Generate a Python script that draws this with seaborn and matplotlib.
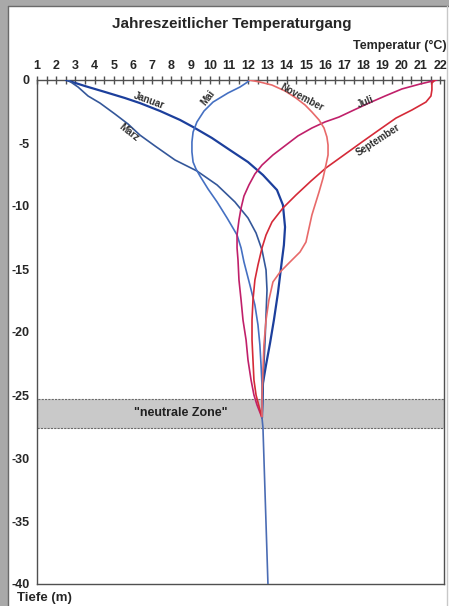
import pandas as pd
import matplotlib.pyplot as plt
import seaborn as sns
from matplotlib.patches import Rectangle

# Temperaturprofile (Temperatur in °C, Tiefe in m)
jan_t = [2.51, 3.5, 4.54, 5.58, 6.36, 7.41, 8.45, 9.13, 10.11, 11.05, 11.99, 12.77, 13.5,
         13.81, 13.92, 13.86, 13.76, 13.55, 13.34, 13.14, 12.93, 12.77, 12.72]
jan_d = [0, -0.48, -0.95, -1.43, -1.83, -2.46, -3.17, -3.73, -4.6, -5.56, -6.51, -7.54, -8.73,
         -9.92, -11.67, -13.1, -14.29, -16.9, -19.05, -20.87, -22.62, -24.05, -26.8]

maerz_t = [2.61, 3.14, 3.66, 4.28, 5.06, 5.74, 6.36, 7.15, 8.19, 9.33, 10.38, 11.31, 11.99,
           12.41, 12.72, 12.93, 12.98, 12.93, 12.88, 12.82, 12.77, 12.72]
maerz_d = [0, -0.56, -1.27, -1.83, -2.7, -3.49, -4.37, -5.24, -6.35, -7.22, -8.33, -9.68, -10.95,
           -12.14, -13.49, -15.08, -16.67, -18.65, -20.63, -22.62, -24.6, -26.8]

mai_t = [12.09, 11.89, 11.57, 10.95, 10.17, 9.7, 9.33, 9.13, 9.07, 9.07, 9.13, 9.28, 9.49, 9.91,
         10.38, 10.9, 11.42, 11.63, 11.78, 12.09, 12.35, 12.51, 12.61, 12.67, 12.72, 12.72]
mai_d = [0, -0.24, -0.56, -1.03, -1.75, -2.46, -3.33, -4.13, -4.92, -5.71, -6.51, -7.06, -7.62,
         -8.65, -9.68, -10.95, -12.3, -13.33, -14.44, -16.27, -17.86, -19.44, -21.03, -22.62,
         -24.21, -26.8]

juli_t = [21.83, 20.95, 20.01, 19.13, 18.29, 17.51, 16.73, 16.0, 15.32, 14.59, 13.97, 13.29,
          12.72, 12.35, 12.04, 11.78, 11.63, 11.52, 11.42, 11.42, 11.47, 11.52, 11.63, 11.73,
          11.89, 11.99, 12.15, 12.3, 12.46, 12.72]
juli_d = [0, -0.32, -0.71, -1.27, -1.83, -2.38, -2.94, -3.33, -3.81, -4.44, -5.16, -5.95, -6.75,
          -7.46, -8.33, -9.21, -10.16, -11.11, -12.3, -13.33, -14.29, -15.87, -17.46, -19.05,
          -20.63, -22.22, -23.81, -25.0, -25.79, -26.8]

sept_t = [21.73, 21.57, 21.57, 21.52, 21.26, 20.53, 19.7, 18.81, 17.93, 16.99, 16.05, 15.27,
          14.49, 13.81, 13.24, 12.93, 12.72, 12.51, 12.35, 12.25, 12.2, 12.2, 12.25, 12.3,
          12.41, 12.72]
sept_d = [0, -0.24, -0.79, -1.27, -1.75, -2.38, -3.02, -3.97, -4.92, -5.95, -6.98, -8.02, -9.13,
          -10.16, -11.27, -12.3, -13.33, -14.68, -15.87, -17.46, -19.05, -20.63, -22.22, -23.81,
          -25.0, -26.8]

nov_t = [12.04, 12.61, 13.24, 13.92, 14.49, 14.96, 15.32, 15.69, 15.95, 16.1, 16.16, 16.16, 16.05,
         15.9, 15.69, 15.48, 15.32, 15.17, 15.01, 14.7, 14.18, 13.66, 13.29, 13.08, 12.93, 12.82,
         12.77, 12.72, 12.72]
nov_d = [0, -0.16, -0.4, -0.87, -1.43, -1.98, -2.54, -3.17, -3.81, -4.52, -5.16, -5.95, -6.75,
         -7.78, -8.89, -9.92, -10.71, -11.75, -12.86, -13.65, -14.44, -15.24, -16.03, -17.46,
         -19.05, -21.03, -23.02, -25.0, -26.8]

# unterhalb der neutralen Zone: ein gemeinsamer Verlauf
tief_t = [12.72, 12.77, 13.03]
tief_d = [-26.8, -27.6, -40]

monate = ["Januar", "März", "Mai", "Juli", "September", "November", "tief"]
farben = {"Januar": "#1c3f9c", "März": "#34579a", "Mai": "#4570c2",
          "Juli": "#c0206a", "September": "#d52a38", "November": "#e86a6a",
          "tief": "#4a6cb4"}

# Beschriftungen (Temperatur, Tiefe, Drehung)
lab_t = [6.83, 5.79, 9.9, 18.14, 18.76, 14.8]
lab_d = [-1.67, -4.13, -1.43, -1.75, -4.76, -1.35]
lab_rot = [-20, -38, 52, 22, 33, -28]

zone_oben, zone_unten = -25.3, -27.6

rows = []
for name, t, d in zip(monate, [jan_t, maerz_t, mai_t, juli_t, sept_t, nov_t, tief_t],
                      [jan_d, maerz_d, mai_d, juli_d, sept_d, nov_d, tief_d]):
    for ti, di in zip(t, d):
        rows.append({"Monat": name, "Temperatur": ti, "Tiefe": di})
df = pd.DataFrame(rows)

sns.set_style("white")
plt.rcParams['font.family'] = ['Liberation Sans', 'DejaVu Sans']

W, H = 449, 606
fig = plt.figure(figsize=(W / 100, H / 100), dpi=100, facecolor="#a9a9a9")
# weisses Fenster
fig.patches.append(Rectangle((8 / W, 0), (W - 8) / W, (H - 6) / H, transform=fig.transFigure,
                             facecolor="white", edgecolor="none", zorder=-10))
fig.add_artist(plt.Line2D([7.5 / W, 7.5 / W], [0, (H - 5.5) / H], color="#6a6a6a", lw=1, zorder=-5))
fig.add_artist(plt.Line2D([7.5 / W, 1], [(H - 5.5) / H, (H - 5.5) / H], color="#6a6a6a", lw=1, zorder=-5))
fig.add_artist(plt.Line2D([446.5 / W, 446.5 / W], [0, (H - 6) / H], color="#c8c8c8", lw=1, zorder=-5))

ax = fig.add_axes([37 / W, 22 / H, 407 / W, 504 / H])
ax.set_facecolor("white")

ax.axhspan(zone_unten, zone_oben, facecolor="#c9c9c9", edgecolor="#6a6a6a",
           linestyle=(0, (2, 1)), lw=0.8, zorder=1)
ax.text(8.5, -26.45, '"neutrale Zone"', fontsize=9, fontweight="bold",
        ha="center", va="center", color="#202020")

for name in monate:
    sub = df[df["Monat"] == name]
    sns.lineplot(data=sub, x="Temperatur", y="Tiefe", sort=False, estimator=None,
                 color=farben[name], lw=1.6 if name == "Januar" else 1.2, ax=ax, zorder=3)

for name, t, d, r in zip(monate[:6], lab_t, lab_d, lab_rot):
    ax.text(t, d, name, fontsize=7, fontweight="bold", color="#303030",
            rotation=r, ha="center", va="center", rotation_mode="anchor")

ax.set_xlim(1, 22.2)
ax.set_ylim(-40, 0)
ax.set_xlabel("")
ax.set_ylabel("")
ax.xaxis.tick_top()
ax.set_xticks(range(1, 23))
ax.set_xticks([x + 0.5 for x in range(1, 22)], minor=True)
ax.set_yticks(range(-40, 1, 5))
ax.set_yticks(range(-40, 1, 1), minor=True)
ax.set_yticklabels([str(v) for v in range(-40, 1, 5)])
ax.tick_params(axis="both", which="both", direction="inout", color="#505050", width=1)
ax.tick_params(axis="x", which="both", length=6, pad=3, labelsize=9)
ax.tick_params(axis="y", which="major", length=7, pad=2, labelsize=9)
ax.tick_params(axis="y", which="minor", length=6)
for lab in ax.get_xticklabels() + ax.get_yticklabels():
    lab.set_fontweight("bold")
for sp in ax.spines.values():
    sp.set_color("#505050")
    sp.set_linewidth(1)
    sp.set_visible(True)
if ax.get_legend():
    ax.get_legend().remove()

fig.text(232 / W, 1 - 24 / H, "Jahreszeitlicher Temperaturgang", fontsize=11,
         fontweight="bold", ha="center", va="center")
fig.text(447 / W, 1 - 46 / H, "Temperatur (°C)", fontsize=9, fontweight="bold",
         ha="right", va="center")
fig.text(17 / W, 1 - 598 / H, "Tiefe (m)", fontsize=9.5, fontweight="bold",
         ha="left", va="center")

fig.savefig("out.png", dpi=100, facecolor=fig.get_facecolor())
